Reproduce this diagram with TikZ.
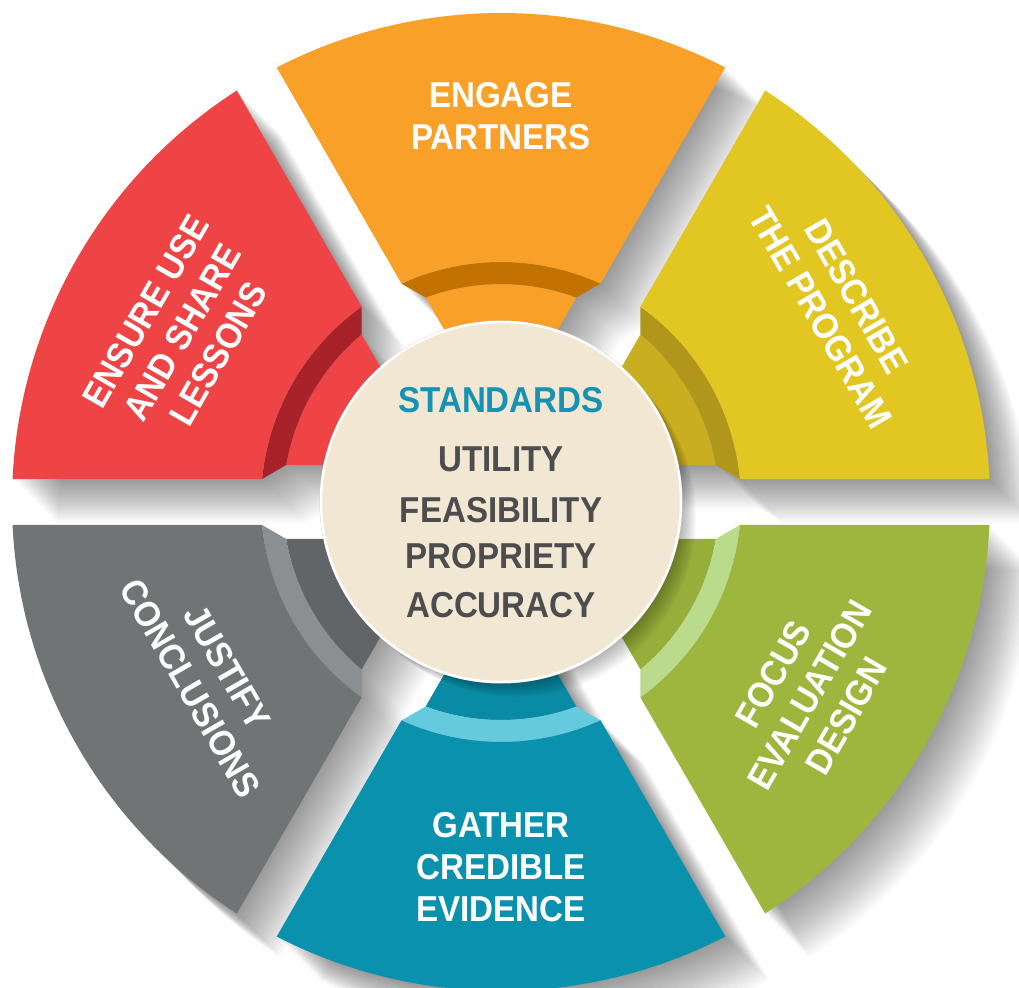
\documentclass[tikz,border=0pt]{standalone}
\usepackage{fontspec}
\setmainfont{Liberation Sans}[FakeStretch=0.92]

% wheel geometry (1 unit = 1bp)
\def\Ro{489}  % outer radius
\def\Rm{240}  % outer edge of the inner step
\def\Rb{218}  % inner edge of the step band
\def\Ri{120}  % inner end, hidden under the hub
\pgfmathsetmacro\aRo{asin(23/489)}
\pgfmathsetmacro\aRm{asin(23/240)}
\pgfmathsetmacro\aRb{asin(37/218)}
\pgfmathsetmacro\aRi{asin(37/120)}

\definecolor{hubfill}{HTML}{F1E7D3}
\definecolor{hubtext}{HTML}{4D4D4F}
\definecolor{hubtitle}{HTML}{1692B4}
% main / band / inner colours of the six parts
\definecolor{yelA}{HTML}{E2C621}\definecolor{yelB}{HTML}{B0961A}\definecolor{yelC}{HTML}{C9AE1F}
\definecolor{orgA}{HTML}{F8A028}\definecolor{orgB}{HTML}{C27200}\definecolor{orgC}{HTML}{F8A028}
\definecolor{redA}{HTML}{EF4446}\definecolor{redB}{HTML}{A82229}\definecolor{redC}{HTML}{EF4446}
\definecolor{gryA}{HTML}{717475}\definecolor{gryB}{HTML}{8B8F91}\definecolor{gryC}{HTML}{626568}
\definecolor{bluA}{HTML}{0A91AD}\definecolor{bluB}{HTML}{66CADF}\definecolor{bluC}{HTML}{0A8BA5}
\definecolor{grnA}{HTML}{9FB63E}\definecolor{grnB}{HTML}{B9DC8C}\definecolor{grnC}{HTML}{97AE3A}

\tikzset{
  outer part/.style={insert path={({#1+\aRo}:\Ro) arc[start angle={#1+\aRo}, end angle={#1+60-\aRo}, radius=\Ro]
      -- ({#1+60-\aRm}:\Rm) arc[start angle={#1+60-\aRm}, end angle={#1+\aRm}, radius=\Rm] -- cycle}},
  band part/.style={insert path={({#1+\aRm}:\Rm) arc[start angle={#1+\aRm}, end angle={#1+60-\aRm}, radius=\Rm]
      -- ({#1+60-\aRb}:\Rb) arc[start angle={#1+60-\aRb}, end angle={#1+\aRb}, radius=\Rb] -- cycle}},
  inner part/.style={insert path={({#1+\aRb}:\Rb) arc[start angle={#1+\aRb}, end angle={#1+60-\aRb}, radius=\Rb]
      -- ({#1+60-\aRi}:\Ri) arc[start angle={#1+60-\aRi}, end angle={#1+\aRi}, radius=\Ri] -- cycle}},
  whole part/.style={insert path={({#1+\aRo}:\Ro) arc[start angle={#1+\aRo}, end angle={#1+60-\aRo}, radius=\Ro]
      -- ({#1+60-\aRm}:\Rm) -- ({#1+60-\aRb}:\Rb) -- ({#1+60-\aRi}:\Ri)
      arc[start angle={#1+60-\aRi}, end angle={#1+\aRi}, radius=\Ri]
      -- ({#1+\aRb}:\Rb) -- ({#1+\aRm}:\Rm) -- cycle}},
  seglabel/.style={text=white, align=center, inner sep=0pt,
      font=\bfseries\fontsize{36bp}{42bp}\selectfont},
  hubline/.style={anchor=base, inner sep=0pt, text=hubtext,
      font=\bfseries\fontsize{36bp}{42bp}\selectfont},
}

\begin{document}
\begin{tikzpicture}[x=1bp, y=1bp]
  \fill[white] (-501,-486) rectangle (518,502);
  \useasboundingbox (-501,-486) rectangle (518,502);

  % soft cast shadows, falling down and to the right
  \foreach \b in {0,60,...,300}{
    \foreach \k in {1,...,22}{
      \fill[black, opacity=0.018, shift={(2*\k,-2*\k)}, whole part=\b];
    }
  }

  % the six parts: outer block, step band, inner block
  \foreach \b/\col in {0/yel, 60/org, 120/red, 180/gry, 240/blu, 300/grn}{
    \fill[\col C, inner part=\b];
    \fill[\col B, band part=\b];
    \fill[\col A, outer part=\b];
  }

  % shadow of the hub
  \foreach \k in {1,...,10}{
    \fill[black, opacity=0.03] (1.5*\k,-1.5*\k) circle[radius=180];
  }
  \fill[gray!45] (0,0) circle[radius=181.5];
  \node[circle, minimum size=360bp, inner sep=0pt, fill=hubfill, draw=white, line width=2.5bp] (hub) at (0,0) {};

  % hub text
  \node[hubline, text=hubtitle] (standards) at (0,89) {STANDARDS};
  \node[hubline] (utility) at (0,30) {UTILITY};
  \node[hubline] (feasibility) at (0,-20) {FEASIBILITY};
  \node[hubline] (propriety) at (0,-66) {PROPRIETY};
  \node[hubline] (accuracy) at (0,-115) {ACCURACY};

  % part labels
  \node[seglabel] (engage) at (90:386) {ENGAGE\\PARTNERS};
  \node[seglabel, rotate=-60] (describe) at (30:390) {DESCRIBE\\THE PROGRAM};
  \node[seglabel, rotate=60] (focus) at (-32:364) {FOCUS\\EVALUATION\\DESIGN};
  \node[seglabel] (gather) at (270:365) {GATHER\\CREDIBLE\\EVIDENCE};
  \node[seglabel, rotate=-60] (justify) at (211:341) {JUSTIFY\\CONCLUSIONS};
  \node[seglabel, rotate=60] (ensure) at (152:361) {ENSURE USE\\AND SHARE\\LESSONS};
\end{tikzpicture}
\end{document}
